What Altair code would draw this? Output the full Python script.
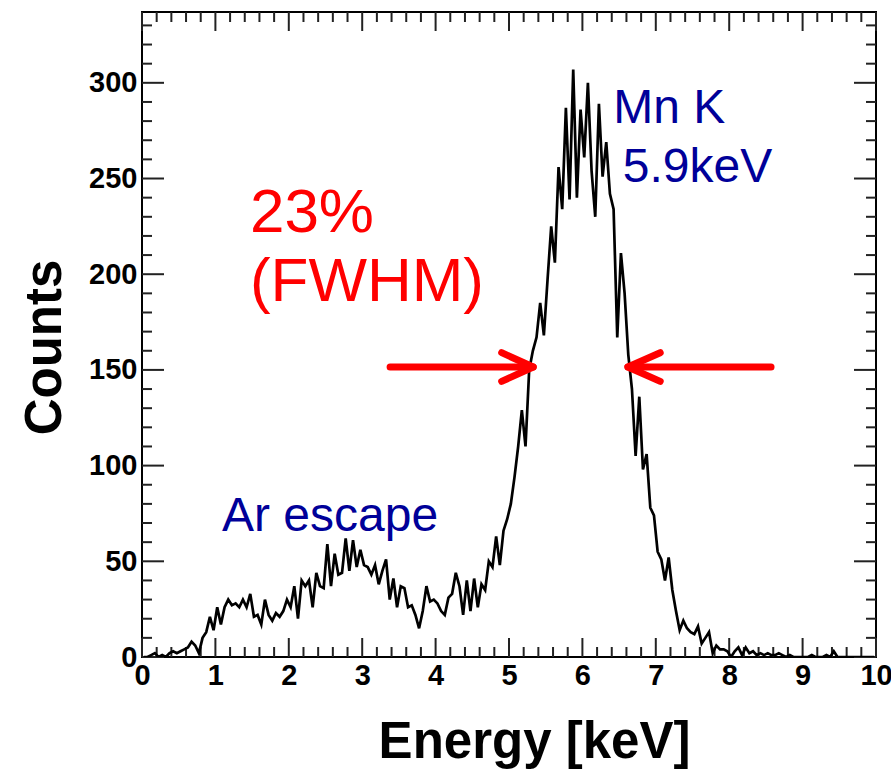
import altair as alt
import pandas as pd

# ---- data (histogram, 0.05 keV bins) ----
bin_width = 0.05
counts = [
    0, 0, 1, 2, 0, 1, 0, 2, 3, 2, 3, 4, 5, 8, 6, 2, 10, 13, 21, 14,              # 0-1 keV
    26, 17, 26, 30, 27, 28, 26, 30, 26, 33, 21, 22, 17, 30, 22, 19, 23, 21, 24, 30,  # 1-2
    26, 37, 20, 40, 37, 40, 26, 44, 37, 36, 59, 37, 54, 43, 44, 62, 45, 61, 47, 56,  # 2-3
    48, 47, 43, 48, 38, 45, 51, 30, 41, 26, 37, 36, 26, 27, 22, 15, 24, 37, 29, 30,  # 3-4
    28, 24, 22, 31, 33, 44, 37, 22, 40, 24, 41, 26, 38, 35, 50, 47, 63, 48, 66, 72,  # 4-5
    80, 94, 110, 129, 110, 150, 160, 167, 185, 168, 197, 225, 206, 256, 234, 287, 239, 307, 240, 286,  # 5-6
    261, 300, 254, 230, 289, 251, 269, 242, 234, 167, 211, 190, 158, 140, 105, 136, 98, 106, 78, 74,  # 6-7
    55, 51, 40, 52, 35, 24, 14, 19, 15, 13, 12, 16, 7, 10, 13, 2, 6, 4, 4, 3,        # 7-8
    0, 3, 5, 1, 5, 2, 3, 1, 2, 1, 2, 1, 1, 2, 1, 0, 1, 0, 0, 0,                      # 8-9
    0, 0, 1, 0, 0, 0, 1, 0, 3, 0, 0, 0, 0, 0, 0, 0, 0, 0, 0, 0,                      # 9-10
]
energy = [round(bin_width * (i + 0.5), 3) for i in range(len(counts))]

x_major = [0, 1, 2, 3, 4, 5, 6, 7, 8, 9, 10]
x_minor = [round(0.2 * i, 1) for i in range(51) if i % 5 != 0]
y_major = [0, 50, 100, 150, 200, 250, 300]
y_minor = [v for v in range(0, 340, 10) if v % 50 != 0]

# FWHM arrows (energy, counts)
half_max = 151.5
arrow_left_E = [3.38, 5.33]
arrow_right_E = [8.57, 6.62]
arrow_head_left = [(4.90, 159), (5.33, half_max), (4.90, 144)]
arrow_head_right = [(7.06, 159), (6.62, half_max), (7.06, 144)]

W, H = 734, 645
XMAX, YMAX = 10, 337
FONT = "Liberation Sans"

spec_df = pd.DataFrame({"E": energy, "c": counts})

xs = alt.Scale(domain=[0, XMAX], nice=False, zero=False)
ys = alt.Scale(domain=[0, YMAX], nice=False, zero=False)

spectrum = alt.Chart(spec_df).mark_line(color="black", strokeWidth=2.7, clip=True,
                                        strokeJoin="miter").encode(
    x=alt.X("E:Q", scale=xs, axis=alt.Axis(
        values=x_major, format="d", title="Energy [keV]", grid=False, domain=False, ticks=False,
        labelFont=FONT, labelFontSize=29, labelFontWeight="bold", labelColor="black",
        labelPadding=4, labelFlush=False,
        titleFont=FONT, titleFontSize=51, titleFontWeight="bold", titleColor="black",
        titleX=392, titleY=100, titleAlign="center", titleBaseline="alphabetic")),
    y=alt.Y("c:Q", scale=ys, axis=alt.Axis(
        values=y_major, format="d", title="Counts", grid=False, domain=False, ticks=False,
        labelFont=FONT, labelFontSize=29, labelFontWeight="bold", labelColor="black",
        labelPadding=5, labelFlush=False,
        titleFont=FONT, titleFontSize=51, titleFontWeight="bold", titleColor="black",
        titleAngle=270, titleX=-82, titleY=335, titleAlign="center", titleBaseline="alphabetic")),
)

def xticks(vals, length):
    df = pd.DataFrame({"E": vals})
    bottom = alt.Chart(df).mark_rule(color="#222", strokeWidth=2).encode(
        x=alt.X("E:Q", scale=xs), y=alt.value(H), y2=alt.value(H - length))
    top = alt.Chart(df).mark_rule(color="#222", strokeWidth=2).encode(
        x=alt.X("E:Q", scale=xs), y=alt.value(0), y2=alt.value(length))
    return bottom + top

def yticks(vals, length):
    df = pd.DataFrame({"c": vals})
    left = alt.Chart(df).mark_rule(color="#222", strokeWidth=2).encode(
        y=alt.Y("c:Q", scale=ys), x=alt.value(0), x2=alt.value(length))
    right = alt.Chart(df).mark_rule(color="#222", strokeWidth=2).encode(
        y=alt.Y("c:Q", scale=ys), x=alt.value(W), x2=alt.value(W - length))
    return left + right

ticks = xticks(x_major, 19) + xticks(x_minor, 10) + yticks(y_major, 22) + yticks(y_minor, 10)

arrow_rows = []
for i, e in enumerate(arrow_left_E):
    arrow_rows.append({"g": "L", "o": i, "E": e, "c": half_max})
for i, e in enumerate(arrow_right_E):
    arrow_rows.append({"g": "R", "o": i, "E": e, "c": half_max})
for i, (e, c) in enumerate(arrow_head_left):
    arrow_rows.append({"g": "LH", "o": i, "E": e, "c": c})
for i, (e, c) in enumerate(arrow_head_right):
    arrow_rows.append({"g": "RH", "o": i, "E": e, "c": c})
arrows = alt.Chart(pd.DataFrame(arrow_rows)).mark_line(
    color="#ff0000", strokeWidth=7, strokeCap="round", strokeJoin="round").encode(
    x=alt.X("E:Q", scale=xs), y=alt.Y("c:Q", scale=ys), detail="g:N", order="o:Q")

def label(text, e, c, size, color):
    return alt.Chart(pd.DataFrame({"E": [e], "c": [c], "t": [text]})).mark_text(
        font=FONT, fontSize=size, color=color, align="left", baseline="alphabetic").encode(
        x=alt.X("E:Q", scale=xs), y=alt.Y("c:Q", scale=ys), text="t:N")

navy = "#000099"
texts = (label("23%", 1.47, 222, 62, "#ff0000")
         + label("(FWHM)", 1.47, 186, 62, "#ff0000")
         + label("Mn K", 6.42, 279, 48, navy)
         + label("5.9keV", 6.55, 248, 48, navy)
         + label("Ar escape", 1.09, 66, 48, navy))

chart = alt.layer(ticks, spectrum, arrows, texts).properties(
    width=W, height=H,
    autosize=alt.AutoSizeParams(type="none"),
    padding={"left": 142, "top": 12, "right": 15, "bottom": 121},
    background="white",
).configure_view(stroke="black", strokeWidth=2)

chart.save("out.html", embed_options={"renderer": "svg", "actions": False})
